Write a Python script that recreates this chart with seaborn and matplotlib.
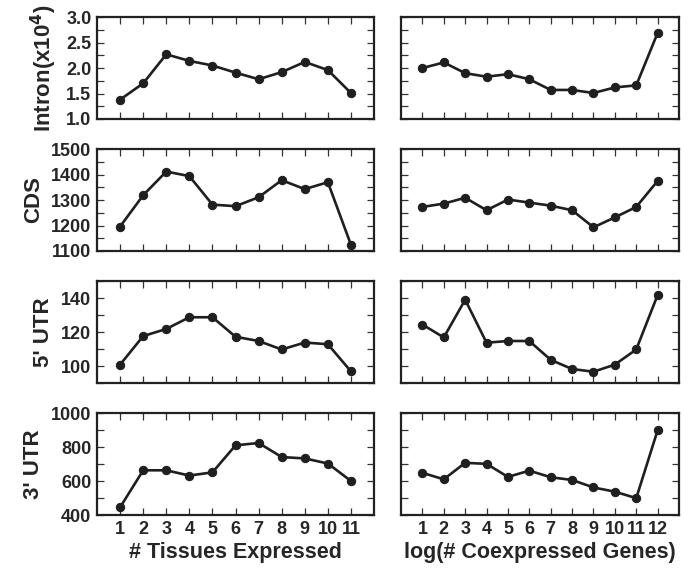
"""
Gene feature lengths vs. tissue breadth and coexpression.
Four rows (intron, CDS, 5' UTR, 3' UTR), two panels per row.
"""

import pandas as pd
import matplotlib.pyplot as plt
import matplotlib.ticker as mticker
import seaborn as sns

# x categories
tissues = [1, 2, 3, 4, 5, 6, 7, 8, 9, 10, 11]
coexpr = [1, 2, 3, 4, 5, 6, 7, 8, 9, 10, 11, 12]

# left column: by number of tissues expressed
intron_tissue = [1.38, 1.70, 2.27, 2.14, 2.05, 1.91, 1.78, 1.92, 2.12, 1.96, 1.51]
cds_tissue = [1196, 1319, 1412, 1394, 1282, 1276, 1311, 1378, 1343, 1370, 1124]
utr5_tissue = [101, 117.8, 122, 128.9, 128.9, 117.4, 114.9, 109.9, 114, 113, 97]
utr3_tissue = [447, 665, 665, 634, 653, 812, 826, 743, 735, 705, 602]

# right column: by log(# coexpressed genes)
intron_coexpr = [2.00, 2.11, 1.90, 1.83, 1.88, 1.78, 1.57, 1.57, 1.51, 1.62, 1.66, 2.69]
cds_coexpr = [1273, 1286, 1309, 1260, 1302, 1290, 1278, 1260, 1193, 1232, 1273, 1375]
utr5_coexpr = [124.6, 117, 139.2, 113.9, 114.9, 114.9, 103.8, 98.4, 96.8, 101, 109.9, 142]
utr3_coexpr = [650, 612, 709, 703, 626, 663, 624, 608, 564, 539, 501, 901]

row_labels = ['Intron(x10$^{\\mathbf{4}}$)', 'CDS', "5' UTR", "3' UTR"]
row_ylims = [(1.0, 3.0), (1100, 1500), (90, 150), (400, 1000)]
row_major = [0.5, 100, 20, 200]
row_minor = [0.25, 50, 10, 100]
xlabels = ['# Tissues Expressed', 'log(# Coexpressed Genes)']

sns.set_style('ticks')
plt.rcParams['font.family'] = ['Liberation Sans', 'DejaVu Sans']
plt.rcParams['font.weight'] = 'bold'
plt.rcParams['axes.labelweight'] = 'bold'

LINE = '#1f1f1f'

fig = plt.figure(figsize=(6.95, 5.69), dpi=100)

col_left = [0.1396, 0.577]
col_width = [0.3986, 0.400]
row_bottom = [0.7909, 0.5589, 0.3264, 0.0944]
row_height = 0.179

left_data = [intron_tissue, cds_tissue, utr5_tissue, utr3_tissue]
right_data = [intron_coexpr, cds_coexpr, utr5_coexpr, utr3_coexpr]

for r in range(4):
    for c in range(2):
        ax = fig.add_axes([col_left[c], row_bottom[r], col_width[c], row_height])
        xs = tissues if c == 0 else coexpr
        ys = left_data[r] if c == 0 else right_data[r]
        df = pd.DataFrame({'x': xs, 'y': ys})
        sns.lineplot(data=df, x='x', y='y', ax=ax, color=LINE, linewidth=1.9,
                     marker='o', markersize=6, markeredgecolor=LINE,
                     markerfacecolor=LINE)

        ax.set_xlim(0, len(xs) + 1)
        ax.set_ylim(*row_ylims[r])
        ax.xaxis.set_major_locator(mticker.FixedLocator(xs))
        ax.yaxis.set_major_locator(mticker.MultipleLocator(row_major[r]))
        ax.yaxis.set_minor_locator(mticker.MultipleLocator(row_minor[r]))

        ax.tick_params(axis='both', which='both', direction='in',
                       top=True, right=True, length=5, width=0.9,
                       color='#333333', labelsize=13, pad=4)
        ax.tick_params(axis='x', which='minor', top=False, bottom=False)

        for s in ax.spines.values():
            s.set_linewidth(1.6)
            s.set_color('#222222')

        if r == 1:
            ax.yaxis.set_major_formatter(mticker.FormatStrFormatter('%d'))
        if r == 0:
            ax.yaxis.set_major_formatter(mticker.FormatStrFormatter('%.1f'))

        if c == 0:
            ax.set_ylabel(row_labels[r], fontsize=16, fontweight='bold', labelpad=5)
        else:
            ax.set_ylabel('')
            ax.tick_params(axis='y', labelleft=False)

        if r == 3:
            ax.set_xlabel(xlabels[c], fontsize=15.5, fontweight='bold', labelpad=3)
        else:
            ax.set_xlabel('')
            ax.tick_params(axis='x', labelbottom=False)

fig.savefig('out.png', dpi=100)
plt.close(fig)
